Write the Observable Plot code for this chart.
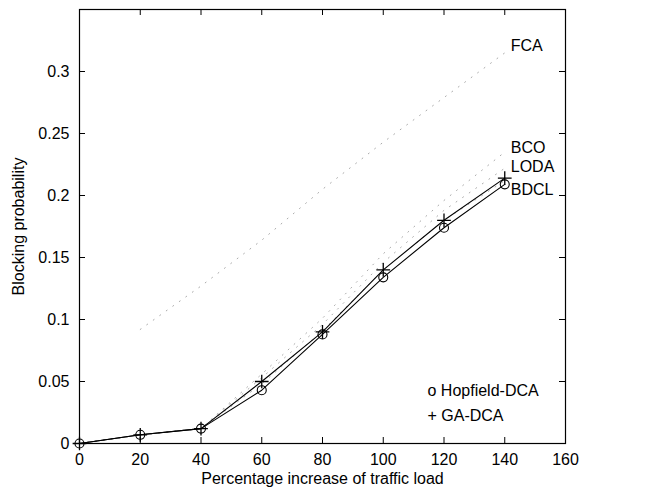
<!DOCTYPE html>
<html>
<head>
<meta charset="utf-8">
<script src="https://cdn.jsdelivr.net/npm/d3@7"></script>
<script src="https://cdn.jsdelivr.net/npm/@observablehq/plot@0.6"></script>
<style>
  html, body { margin: 0; padding: 0; background: #fff; }
  #chart svg { display: block; }
</style>
</head>
<body>
<div id="chart"></div>
<script>
// ---- data ----
const loads = [0, 20, 40, 60, 80, 100, 120, 140];
const hopfieldDCA = [0, 0.007, 0.012, 0.043, 0.088, 0.134, 0.174, 0.209];
const gaDCA       = [0, 0.007, 0.012, 0.050, 0.090, 0.140, 0.180, 0.214];

const fcaLoads = [20, 40, 60, 80, 100, 120, 140];
const fca      = [0.092, 0.127, 0.164, 0.205, 0.243, 0.279, 0.315];
const bco      = [0, 0.007, 0.012, 0.056, 0.101, 0.153, 0.196, 0.235];
const loda     = [0, 0.007, 0.012, 0.053, 0.096, 0.146, 0.188, 0.222];
const bdcl     = [0, 0.007, 0.012, 0.048, 0.091, 0.140, 0.180, 0.212];

const xTicks = [0, 20, 40, 60, 80, 100, 120, 140, 160];
const yTicks = [0, 0.05, 0.1, 0.15, 0.2, 0.25, 0.3];
const xLabel = "Percentage increase of traffic load";
const yLabel = "Blocking probability";
const legendLines = ["o Hopfield-DCA", "+ GA-DCA"];

// ---- build tables ----
const toRows = (xs, ys, name) => xs.map((x, i) => ({x, y: ys[i], name}));
const hopRows = toRows(loads, hopfieldDCA, "Hopfield-DCA");
const gaRows = toRows(loads, gaDCA, "GA-DCA");
const dotted = [
  {name: "FCA", rows: toRows(fcaLoads, fca, "FCA"), dy: -7},
  {name: "BCO", rows: toRows(loads, bco, "BCO"), dy: -4},
  {name: "LODA", rows: toRows(loads, loda, "LODA"), dy: -1},
  {name: "BDCL", rows: toRows(loads, bdcl, "BDCL"), dy: 9}
];

const width = 654, height = 495;
const mL = 79, mR = 89, mT = 9, mB = 52;
const plotH = height - mT - mB, plotW = width - mL - mR;
const tickLen = 6;
const font = "Liberation Sans, Arial, Helvetica, sans-serif";

const marks = [
  Plot.frame({stroke: "#000", strokeWidth: 1.2}),
  // inward ticks on all four sides
  Plot.tickX(xTicks, {x: d => d, insetTop: plotH - tickLen, stroke: "#000"}),
  Plot.tickX(xTicks, {x: d => d, insetBottom: plotH - tickLen, stroke: "#000"}),
  Plot.tickY(yTicks, {y: d => d, insetRight: plotW - tickLen, stroke: "#000"}),
  Plot.tickY(yTicks, {y: d => d, insetLeft: plotW - tickLen, stroke: "#000"}),
  Plot.axisX({ticks: xTicks, tickSize: 0, tickPadding: 10, label: null, tickFormat: d => String(d)}),
  Plot.axisY({ticks: yTicks, tickSize: 0, tickPadding: 10, tickFormat: d => String(d),
              label: yLabel, labelAnchor: "center", labelOffset: 67, labelArrow: "none"}),
  Plot.text([xLabel], {frameAnchor: "bottom", dy: 40, fontSize: 16}),
];

for (const s of dotted) {
  marks.push(Plot.line(s.rows, {x: "x", y: "y", stroke: "#aaa", strokeWidth: 1, strokeDasharray: "1,7"}));
  const last = s.rows[s.rows.length - 1];
  marks.push(Plot.text([last], {x: "x", y: "y", text: d => s.name, textAnchor: "start", dx: 6, dy: s.dy, fontSize: 16}));
}

marks.push(
  Plot.line(hopRows, {x: "x", y: "y", stroke: "#000", strokeWidth: 1.1}),
  Plot.line(gaRows, {x: "x", y: "y", stroke: "#000", strokeWidth: 1.1}),
  Plot.dot(hopRows, {x: "x", y: "y", r: 4.5, symbol: "circle", stroke: "#000", fill: "none", strokeWidth: 1.1}),
  Plot.dot(gaRows, {x: "x", y: "y", r: 4.5, symbol: "plus", stroke: "#000", strokeWidth: 1.3}),
  Plot.text([legendLines[0]], {frameAnchor: "bottom-left", textAnchor: "start", dx: 348, dy: -48, fontSize: 16}),
  Plot.text([legendLines[1]], {frameAnchor: "bottom-left", textAnchor: "start", dx: 348, dy: -23, fontSize: 16})
);

const chart = Plot.plot({
  width, height,
  marginLeft: mL, marginRight: mR, marginTop: mT, marginBottom: mB,
  style: {fontFamily: font, fontSize: "16px", color: "#000", background: "#fff"},
  x: {domain: [0, 160]},
  y: {domain: [0, 0.35]},
  marks
});
document.getElementById("chart").appendChild(chart);
</script>
</body>
</html>
